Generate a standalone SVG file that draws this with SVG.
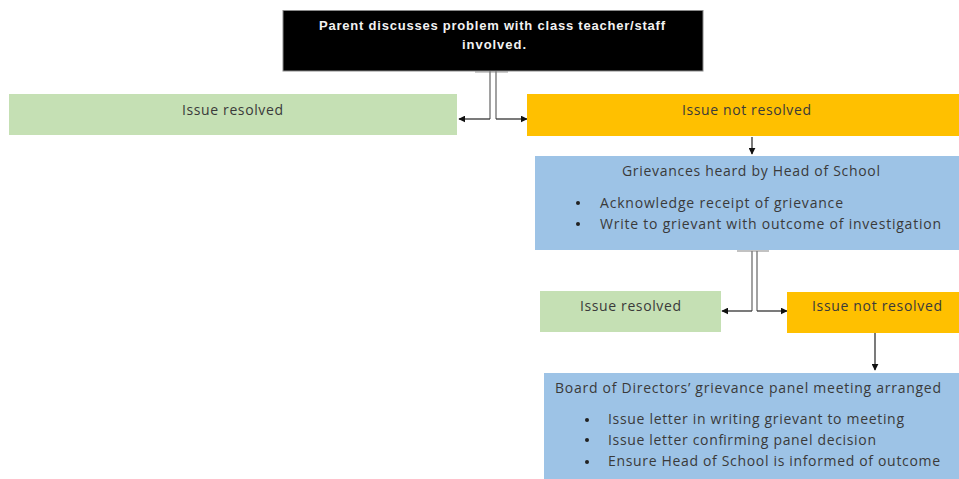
<svg xmlns="http://www.w3.org/2000/svg" width="959" height="479" viewBox="0 0 959 479">
<defs>
<style>
.t{font-family:"Open Sans","Liberation Sans",Arial,sans-serif;font-size:14px;fill:#3a3a3a}
.w{font-family:"Liberation Sans",Arial,sans-serif;font-size:13px;font-weight:bold;fill:#f2f2f2}
.green{fill:#C5E0B4}
.orange{fill:#FFC000}
.blue{fill:#9DC3E6}
.conn{fill:none;stroke:#7a7a7a;stroke-width:1.4}
.leg{fill:none;stroke:#333;stroke-width:1.3}
.stub{fill:none;stroke:#9a9a9a;stroke-width:1.2}
.arr{fill:none;stroke:#222;stroke-width:1.2}
</style>
<marker id="ah" viewBox="0 0 10 10" refX="9" refY="5" markerWidth="7" markerHeight="7" orient="auto" markerUnits="userSpaceOnUse">
<path d="M0,0 L10,5 L0,10 z" fill="#111"/>
</marker>
</defs>
<rect width="959" height="479" fill="#fff"/>

<g id="connectors">
<path class="stub" d="M475,72 H508"/>
<path class="conn" d="M490,71 V119"/>
<path class="leg" d="M490,119 H459" marker-end="url(#ah)"/>
<path class="conn" d="M496,71 V119"/>
<path class="leg" d="M496,119 H527" marker-end="url(#ah)"/>
<path class="arr" d="M752,137 V154" marker-end="url(#ah)"/>
<path class="stub" d="M737,251 H769"/>
<path class="conn" d="M752,251 V311"/>
<path class="leg" d="M752,311 H722" marker-end="url(#ah)"/>
<path class="conn" d="M757,251 V311"/>
<path class="leg" d="M757,311 H787" marker-end="url(#ah)"/>
<path class="arr" d="M875,333 V370" marker-end="url(#ah)"/>
</g>

<g id="start">
<rect x="283" y="10.5" width="420" height="60.5" fill="#000" stroke="#8a8a8a" stroke-width="1"/>
<text class="w" x="319" y="30" textLength="346">Parent discusses problem with class teacher/staff</text>
<text class="w" x="462" y="49" textLength="64">involved.</text>
</g>

<g id="resolved1">
<rect class="green" x="9" y="94" width="448" height="41"/>
<text class="t" x="182" y="115" textLength="101">Issue resolved</text>
</g>

<g id="notresolved1">
<rect class="orange" x="527" y="94" width="432" height="42"/>
<text class="t" x="682" y="115" textLength="129">Issue not resolved</text>
</g>

<g id="head">
<rect class="blue" x="535" y="156" width="424" height="94"/>
<text class="t" x="622" y="176" textLength="258">Grievances heard by Head of School</text>
<circle cx="578" cy="203" r="2" fill="#222"/>
<text class="t" x="600" y="208" textLength="243">Acknowledge receipt of grievance</text>
<circle cx="578" cy="224" r="2" fill="#222"/>
<text class="t" x="600" y="229" textLength="341">Write to grievant with outcome of investigation</text>
</g>

<g id="resolved2">
<rect class="green" x="540" y="291" width="181" height="41"/>
<text class="t" x="580" y="311" textLength="101">Issue resolved</text>
</g>

<g id="notresolved2">
<rect class="orange" x="787" y="292" width="172" height="41"/>
<text class="t" x="812" y="311" textLength="130">Issue not resolved</text>
</g>

<g id="board">
<rect class="blue" x="544" y="373" width="415" height="106"/>
<text class="t" x="555" y="393" textLength="386">Board of Directors’ grievance panel meeting arranged</text>
<circle cx="587" cy="420" r="2" fill="#222"/>
<text class="t" x="608" y="424" textLength="296">Issue letter in writing grievant to meeting</text>
<circle cx="587" cy="440" r="2" fill="#222"/>
<text class="t" x="608" y="445" textLength="268">Issue letter confirming panel decision</text>
<circle cx="587" cy="462" r="2" fill="#222"/>
<text class="t" x="608" y="466" textLength="332">Ensure Head of School is informed of outcome</text>
</g>
</svg>
